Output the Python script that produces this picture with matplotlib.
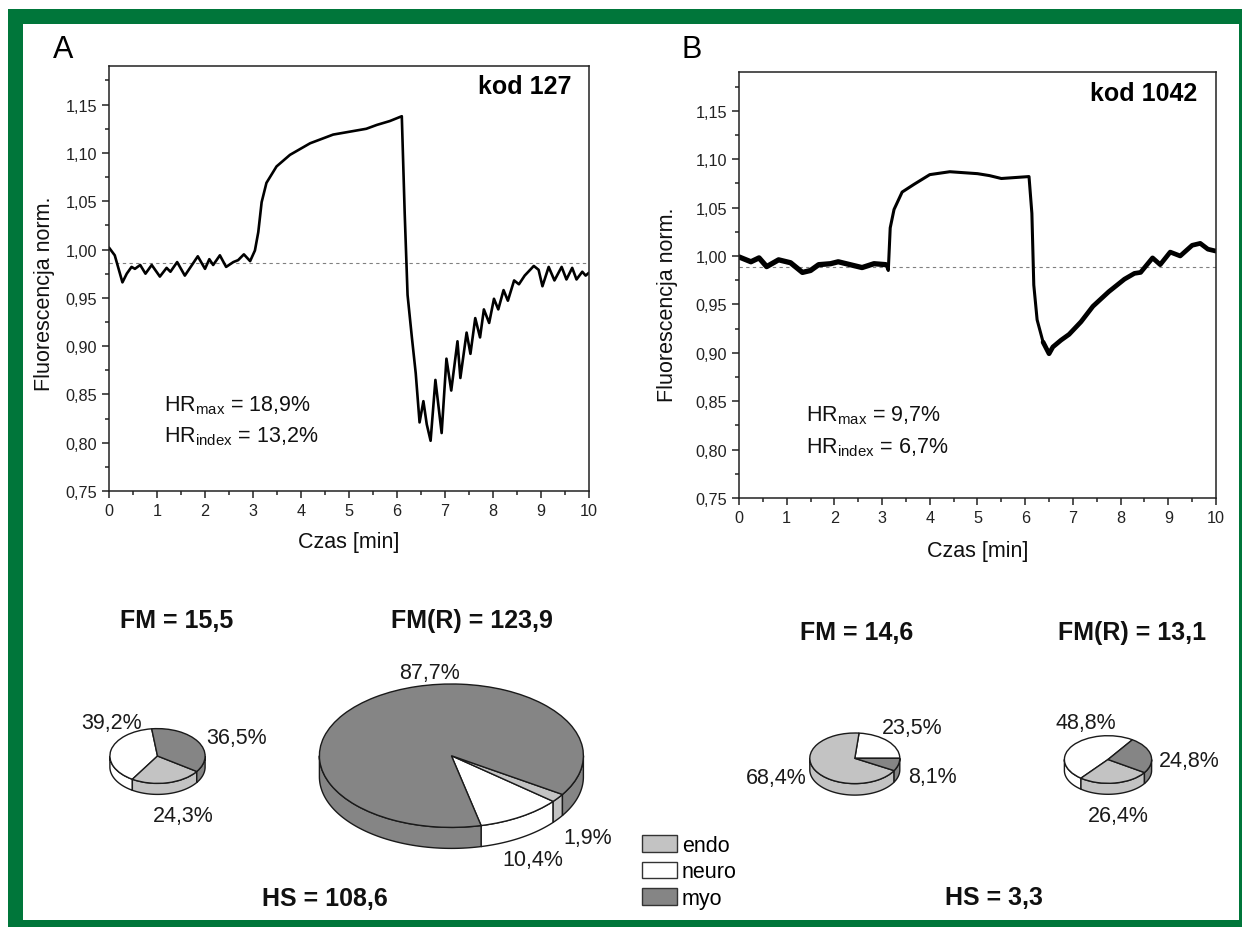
import numpy as np
import matplotlib
matplotlib.use("Agg")
import matplotlib.pyplot as plt
from matplotlib.patches import Polygon, Rectangle, Patch
from matplotlib.transforms import Affine2D

plt.rcParams['font.family'] = ['Liberation Sans', 'DejaVu Sans']
plt.rcParams['mathtext.fontset'] = 'custom'
plt.rcParams['mathtext.rm'] = 'Liberation Sans'
plt.rcParams['mathtext.it'] = 'Liberation Sans:italic'
plt.rcParams['mathtext.bf'] = 'Liberation Sans:bold'

W, H = 1242, 928

# ---------------- data ----------------
time_a = [0.00, 0.12, 0.28, 0.37, 0.47, 0.54, 0.65, 0.76, 0.89, 1.06, 1.20, 1.28,
          1.42, 1.58, 1.85, 2.00, 2.09, 2.17, 2.31, 2.44, 2.59, 2.69, 2.81, 2.94,
          3.04, 3.11, 3.18, 3.28, 3.49, 3.77, 4.19, 4.67, 5.36, 5.58, 5.85, 6.10,
          6.16, 6.22, 6.31, 6.39, 6.47, 6.55, 6.62, 6.70, 6.80, 6.93, 7.03, 7.13,
          7.26, 7.32, 7.45, 7.53, 7.63, 7.73, 7.81, 7.92, 8.02, 8.11, 8.22, 8.31,
          8.44, 8.54, 8.66, 8.85, 8.95, 9.03, 9.16, 9.28, 9.43, 9.53, 9.65, 9.74,
          9.86, 9.93, 10.0]
fluo_a = [1.002, 0.994, 0.966, 0.975, 0.982, 0.980, 0.984, 0.975, 0.984, 0.972, 0.981, 0.977,
          0.987, 0.973, 0.993, 0.980, 0.990, 0.984, 0.994, 0.982, 0.987, 0.989, 0.995, 0.988,
          0.999, 1.018, 1.049, 1.069, 1.086, 1.098, 1.110, 1.119, 1.125, 1.129, 1.133, 1.138,
          1.038, 0.953, 0.909, 0.872, 0.821, 0.843, 0.819, 0.802, 0.865, 0.810, 0.887, 0.854,
          0.905, 0.867, 0.914, 0.892, 0.929, 0.909, 0.938, 0.924, 0.949, 0.938, 0.958, 0.947,
          0.968, 0.964, 0.973, 0.983, 0.979, 0.962, 0.982, 0.968, 0.982, 0.969, 0.981, 0.969,
          0.977, 0.973, 0.976]

time_b = [0.00, 0.25, 0.42, 0.58, 0.83, 1.08, 1.33, 1.50, 1.67, 1.92, 2.08, 2.33,
          2.58, 2.83, 3.08, 3.13, 3.17, 3.25, 3.42, 3.67, 4.00, 4.42, 5.00, 5.25,
          5.50, 6.08, 6.14, 6.18, 6.25, 6.375, 6.50, 6.58, 6.75, 6.92, 7.17, 7.42,
          7.75, 8.08, 8.29, 8.42, 8.67, 8.83, 9.04, 9.25, 9.50, 9.67, 9.83, 10.0]
fluo_b = [0.999, 0.994, 0.998, 0.989, 0.996, 0.993, 0.983, 0.985, 0.991, 0.992, 0.994, 0.991,
          0.988, 0.992, 0.991, 0.985, 1.029, 1.048, 1.066, 1.074, 1.084, 1.087, 1.085, 1.083,
          1.080, 1.082, 1.044, 0.970, 0.934, 0.911, 0.899, 0.906, 0.913, 0.919, 0.932, 0.948,
          0.963, 0.976, 0.982, 0.983, 0.998, 0.991, 1.004, 1.000, 1.011, 1.013, 1.007, 1.005]

baseline_a = 0.986
baseline_b = 0.989

x_ticks = list(range(0, 11))
x_tick_labels = [str(v) for v in x_ticks]
y_ticks = [0.75, 0.80, 0.85, 0.90, 0.95, 1.00, 1.05, 1.10, 1.15]
y_tick_labels = ['0,75', '0,80', '0,85', '0,90', '0,95', '1,00', '1,05', '1,10', '1,15']

codes = ['kod 127', 'kod 1042']
hr_max = [18.9, 9.7]
hr_index = [13.2, 6.7]

cell_types = ['neuro', 'endo', 'myo']
legend_order = ['endo', 'neuro', 'myo']
cell_colors = {'endo': '#c3c3c3', 'neuro': '#ffffff', 'myo': '#858585'}

pie_a_fm = [39.2, 24.3, 36.5]
pie_a_fmr = [10.4, 1.9, 87.7]
pie_b_fm = [23.5, 68.4, 8.1]
pie_b_fmr = [48.8, 26.4, 24.8]

fm_values = [15.5, 14.6]
fmr_values = [123.9, 13.1]
hs_values = [108.6, 3.3]


def fmt(v):
    return f'{v:.1f}'.replace('.', ',')


fig = plt.figure(figsize=(W / 100, H / 100), dpi=100)

# background axes in pixel units (y up)
ov = fig.add_axes([0, 0, 1, 1])
ov.set_xlim(0, W)
ov.set_ylim(0, H)
ov.axis('off')

# green frame
ov.add_patch(Rectangle((8, 0), 1233.5, H - 10, facecolor='#00763a', edgecolor='none', zorder=0))
ov.add_patch(Rectangle((23, H - 921), 1215.5, 921 - 25, facecolor='white', edgecolor='none', zorder=0.5))


def pie3d(values, start, cx, cy, a, b, depth, label_pos):
    cy = H - cy
    colors = [cell_colors[c] for c in cell_types]
    wedges, _ = ov.pie(values, startangle=start, radius=a, center=(cx, cy), colors=colors,
                       wedgeprops=dict(edgecolor='#1a1a1a', linewidth=1.0), frame=True)
    squash = Affine2D().translate(-cx, -cy).scale(1, b / a).translate(cx, cy) + ov.transData
    for w in wedges:
        w.set_transform(squash)
        w.set_zorder(3)
    edges = start + 360 * np.concatenate([[0], np.cumsum(values) / np.sum(values)])
    for i, c in enumerate(colors):
        th1, th2 = edges[i], edges[i + 1]
        for k in (-1, 0, 1):
            lo = max(th1, 180 + 360 * k)
            hi = min(th2, 360 + 360 * k)
            if hi <= lo:
                continue
            t = np.radians(np.linspace(lo, hi, 80))
            xs = cx + a * np.cos(t)
            ys = cy + b * np.sin(t)
            pts = np.column_stack([np.concatenate([xs, xs[::-1]]),
                                   np.concatenate([ys, ys[::-1] - depth])])
            ov.add_patch(Polygon(pts, closed=True, facecolor=c, edgecolor='#1a1a1a',
                                 linewidth=1.0, zorder=2))
    for v, (lx, ly) in zip(values, label_pos):
        ov.text(lx, H - ly - 7.7, fmt(v) + '%', fontsize=15.5, ha='center', va='baseline',
                color='#1a1a1a', zorder=4)


pie3d(pie_a_fm, 97, 157.5, 757, 47.6, 27.4, 11,
      [(111.5, 721.7), (183.5, 814), (237, 736.7)])
pie3d(pie_a_fmr, -77, 451.4, 756.7, 132, 71.7, 21,
      [(533, 858), (588, 836.7), (429.5, 671)])
pie3d(pie_b_fm, 0, 854.8, 759.3, 45, 25.3, 11.5,
      [(912.5, 726.7), (776, 776.7), (932, 775)])
pie3d(pie_b_fmr, 56, 1108, 760.5, 43.6, 23.8, 11,
      [(1086, 721), (1118, 814), (1189.5, 759)])

ov.set_xlim(0, W)
ov.set_ylim(0, H)
ov.set_aspect('auto')

bold = dict(fontsize=18, fontweight='bold', ha='center', va='baseline', color='#111111')
ov.text(177, H - 628, 'FM = ' + fmt(fm_values[0]), **bold)
ov.text(472, H - 628, 'FM(R) = ' + fmt(fmr_values[0]), **bold)
ov.text(325, H - 906, 'HS = ' + fmt(hs_values[0]), **bold)
ov.text(857, H - 640, 'FM = ' + fmt(fm_values[1]), **bold)
ov.text(1132, H - 640, 'FM(R) = ' + fmt(fmr_values[1]), **bold)
ov.text(994, H - 905, 'HS = ' + fmt(hs_values[1]), **bold)

handles = [Patch(facecolor=cell_colors[c], edgecolor='#333333', linewidth=1.0) for c in legend_order]
ov.legend(handles, legend_order, loc='upper left', bbox_to_anchor=(641.8, H - 836),
          bbox_transform=ov.transData, frameon=False, borderpad=0, borderaxespad=0,
          handlelength=1.63, handleheight=0.8, handletextpad=0.22, labelspacing=0.25,
          fontsize=15.5)

# panel letters
fig.text(53 / W, 1 - 58.3 / H, 'A', fontsize=22, ha='left', va='baseline')
fig.text(682 / W, 1 - 58.5 / H, 'B', fontsize=22, ha='left', va='baseline')


def setup(ax, label_x, label_y, xlab_y):
    ax.set_xlim(0, 10)
    ax.set_ylim(0.75, 1.19)
    ax.set_xticks(x_ticks)
    ax.set_xticklabels(x_tick_labels)
    ax.set_xticks(np.arange(0.5, 10, 1.0), minor=True)
    ax.set_yticks(y_ticks)
    ax.set_yticklabels(y_tick_labels)
    ax.set_yticks(np.arange(0.775, 1.19, 0.05), minor=True)
    ax.tick_params(which='both', direction='out', top=False, right=False,
                   width=1.1, color='#222222', labelcolor='#222222')
    ax.tick_params(which='major', length=5, labelsize=11.7, pad=3.6)
    ax.tick_params(which='minor', length=3)
    for s in ax.spines.values():
        s.set_linewidth(1.1)
        s.set_color('#222222')
    ax.set_ylabel('Fluorescencja norm.', fontsize=15.5, color='#111111')
    ax.yaxis.set_label_coords(label_x, label_y)
    ax.set_xlabel('Czas [min]', fontsize=15.5, color='#111111')
    ax.xaxis.set_label_coords(0.5, xlab_y)


line_style = dict(color='black', solid_capstyle='round', solid_joinstyle='round', zorder=2)

ax_a = fig.add_axes([109 / W, 1 - 492 / H, 480 / W, 425 / H])
ax_a.axhline(baseline_a, color='#808080', lw=0.8, ls=(0, (3, 3)), zorder=1)
ax_a.plot(time_a, fluo_a, lw=1.9, **line_style)
setup(ax_a, -0.1125, 0.466, -0.095)
ax_a.text(0.9625, 0.936, codes[0], transform=ax_a.transAxes, ha='right', va='baseline',
          fontsize=18, fontweight='bold')
ax_a.text(0.1146, 0.1906, r'HR$_{\rm max}$ = ' + fmt(hr_max[0]) + '%', transform=ax_a.transAxes,
          fontsize=15.5, ha='left', va='baseline', color='#111111')
ax_a.text(0.1146, 0.1176, r'HR$_{\rm index}$ = ' + fmt(hr_index[0]) + '%', transform=ax_a.transAxes,
          fontsize=15.5, ha='left', va='baseline', color='#111111')

ax_b = fig.add_axes([739 / W, 1 - 499 / H, 477 / W, 426 / H])
ax_b.axhline(baseline_b, color='#808080', lw=0.8, ls=(0, (3, 3)), zorder=1)
ax_b.plot(time_b, fluo_b, lw=2.2, **line_style)
# the recording is noisy before the stimulus and during recovery: thicker trace there
tb = np.array(time_b)
fb = np.array(fluo_b)
noisy_pre = tb < 3.1
noisy_post = tb >= 6.375
ax_b.plot(tb[noisy_pre], fb[noisy_pre], lw=3.8, **line_style)
ax_b.plot(tb[noisy_post], fb[noisy_post], lw=3.4, **line_style)
setup(ax_b, -0.128, 0.456, -0.098)
ax_b.text(0.96, 0.934, codes[1], transform=ax_b.transAxes, ha='right', va='baseline',
          fontsize=18, fontweight='bold')
ax_b.text(0.1415, 0.183, r'HR$_{\rm max}$ = ' + fmt(hr_max[1]) + '%', transform=ax_b.transAxes,
          fontsize=15.5, ha='left', va='baseline', color='#111111')
ax_b.text(0.1415, 0.1075, r'HR$_{\rm index}$ = ' + fmt(hr_index[1]) + '%', transform=ax_b.transAxes,
          fontsize=15.5, ha='left', va='baseline', color='#111111')

fig.savefig('out.png', dpi=100)
